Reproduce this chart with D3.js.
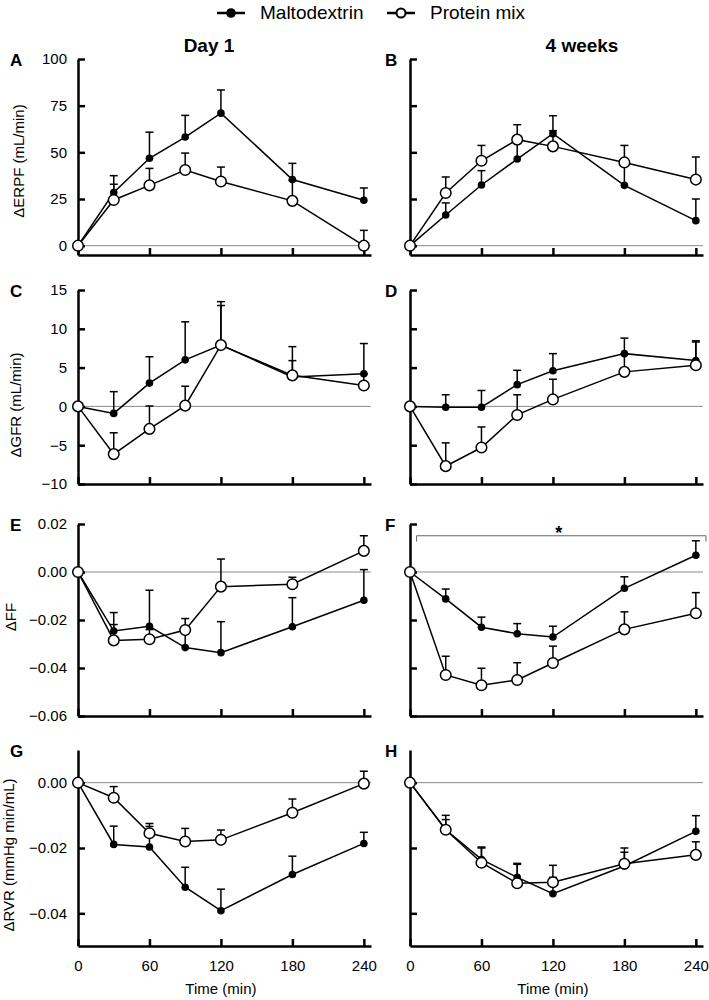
<!DOCTYPE html>
<html>
<head>
<meta charset="utf-8">
<script src="https://cdn.jsdelivr.net/npm/d3@7"></script>
<style>
body { margin: 0; background: #fff; }
svg text { font-family: "Liberation Sans", Arial, sans-serif; fill: #000; }
</style>
</head>
<body>
<div id="chart"></div>
<script>
// Sampling times (min)
const times = [0, 30, 60, 90, 120, 180, 240];

// A - ERPF, day 1
const erpfDay1Malto = [0, 28.5, 46.8, 58.2, 71.0, 35.4, 24.3];
const erpfDay1MaltoSe = [0, 9.0, 14.0, 11.6, 12.4, 8.7, 6.6];
const erpfDay1Prot = [0, 24.5, 32.3, 40.5, 34.4, 24.0, 0];
const erpfDay1ProtSe = [0, 8.4, 9.1, 9.1, 7.7, 11.0, 8.2];
// B - ERPF, 4 weeks
const erpfWk4Malto = [0, 16.4, 32.5, 46.4, 60.0, 32.3, 13.4];
const erpfWk4MaltoSe = [0, 6.5, 7.7, 9.0, 9.6, 11.0, 11.6];
const erpfWk4Prot = [0, 28.2, 45.5, 56.8, 53.2, 44.6, 35.4];
const erpfWk4ProtSe = [0, 8.6, 8.2, 8.0, 8.4, 9.1, 12.1];
// C - GFR, day 1
const gfrDay1Malto = [0, -0.9, 3.0, 6.0, 7.9, 3.8, 4.2];
const gfrDay1MaltoSe = [0, 2.8, 3.4, 4.9, 5.1, 3.9, 3.9];
const gfrDay1Prot = [0, -6.15, -2.9, 0.1, 7.9, 4.0, 2.7];
const gfrDay1ProtSe = [0, 2.75, 2.95, 2.5, 5.6, 1.9, 1.5];
// D - GFR, 4 weeks
const gfrWk4Malto = [0, -0.1, -0.1, 2.8, 4.6, 6.8, 5.9];
const gfrWk4MaltoSe = [0, 1.6, 2.15, 1.85, 2.2, 2.0, 2.55];
const gfrWk4Prot = [0, -7.7, -5.3, -1.1, 0.9, 4.45, 5.3];
const gfrWk4ProtSe = [0, 3.0, 2.65, 2.6, 2.6, 2.3, 3.0];
// E - FF, day 1
const ffDay1Malto = [0, -0.0246, -0.0226, -0.0315, -0.0336, -0.0228, -0.0118];
const ffDay1MaltoSe = [0, 0.0077, 0.015, 0.006, 0.0129, 0.0121, 0.0128];
const ffDay1Prot = [0, -0.0285, -0.028, -0.0242, -0.0061, -0.0051, 0.0088];
const ffDay1ProtSe = [0, 0.0066, 0.004, 0.0048, 0.0115, 0.0029, 0.0063];
// F - FF, 4 weeks
const ffWk4Malto = [0, -0.0112, -0.023, -0.0257, -0.0271, -0.0068, 0.007];
const ffWk4MaltoSe = [0, 0.0041, 0.0042, 0.0042, 0.0045, 0.0048, 0.006];
const ffWk4Prot = [0, -0.0429, -0.0472, -0.045, -0.0379, -0.0239, -0.0172];
const ffWk4ProtSe = [0, 0.0078, 0.0071, 0.0072, 0.007, 0.0073, 0.0086];
// G - RVR, day 1
const rvrDay1Malto = [0, -0.0189, -0.0197, -0.032, -0.0392, -0.0281, -0.0186];
const rvrDay1MaltoSe = [0, 0.0056, 0.0063, 0.0061, 0.0066, 0.0056, 0.0034];
const rvrDay1Prot = [0, -0.0046, -0.0155, -0.018, -0.0175, -0.0092, -0.0003];
const rvrDay1ProtSe = [0, 0.0034, 0.003, 0.004, 0.003, 0.0042, 0.0038];
// H - RVR, 4 weeks
const rvrWk4Malto = [0, -0.0144, -0.0235, -0.029, -0.034, -0.0255, -0.0149];
const rvrWk4MaltoSe = [0, 0.0044, 0.0038, 0.0043, 0.005, 0.0055, 0.0048];
const rvrWk4Prot = [0, -0.0144, -0.0245, -0.0308, -0.0305, -0.0248, -0.0221];
const rvrWk4ProtSe = [0, 0.0031, 0.0045, 0.0058, 0.0052, 0.0035, 0.004];

// Axis settings per row
const rowDomains = [[-5, 100], [-10, 15], [-0.06, 0.02], [-0.05, 0.01]];
const rowTicks = [[0, 25, 50, 75, 100], [-10, -5, 0, 5, 10, 15], [-0.06, -0.04, -0.02, 0, 0.02], [-0.04, -0.02, 0]];
const rowLabels = ["\u0394ERPF (mL/min)", "\u0394GFR (mL/min)", "\u0394FF", "\u0394RVR (mmHg min/mL)"];
const xTicks = [0, 60, 120, 180, 240];
const columnTitles = ["Day 1", "4 weeks"];
const letters = ["A", "B", "C", "D", "E", "F", "G", "H"];

const width = 709, height = 1000;
const colLeft = [78, 410];
const letterX = [10, 385];
const rowTop = [59, 290, 524, 750];
const rowBottom = [255, 484, 716, 946];
const labelX = [24, 21, 16, 14];
const labelY = [161, 405, 617, 855];

const minus = s => s.replace("-", "\u2212");
const fmtRow = [d3.format("d"), d3.format("d"), d3.format(".2f"), d3.format(".2f")];

const panels = [
	[erpfDay1Malto, erpfDay1MaltoSe, erpfDay1Prot, erpfDay1ProtSe],
	[erpfWk4Malto, erpfWk4MaltoSe, erpfWk4Prot, erpfWk4ProtSe],
	[gfrDay1Malto, gfrDay1MaltoSe, gfrDay1Prot, gfrDay1ProtSe],
	[gfrWk4Malto, gfrWk4MaltoSe, gfrWk4Prot, gfrWk4ProtSe],
	[ffDay1Malto, ffDay1MaltoSe, ffDay1Prot, ffDay1ProtSe],
	[ffWk4Malto, ffWk4MaltoSe, ffWk4Prot, ffWk4ProtSe],
	[rvrDay1Malto, rvrDay1MaltoSe, rvrDay1Prot, rvrDay1ProtSe],
	[rvrWk4Malto, rvrWk4MaltoSe, rvrWk4Prot, rvrWk4ProtSe]
];

const svg = d3.select("#chart").append("svg")
	.attr("width", width)
	.attr("height", height);

// Legend
const legend = [
	{name: "Maltodextrin", open: false, x: 217},
	{name: "Protein mix", open: true, x: 387}
];
legend.forEach(l => {
	svg.append("line")
		.attr("x1", l.x).attr("x2", l.x + 28)
		.attr("y1", 13).attr("y2", 13)
		.attr("stroke", "black").attr("stroke-width", 2.5);
	svg.append("circle")
		.attr("cx", l.x + 14).attr("cy", 13)
		.attr("r", l.open ? 4.5 : 4.8)
		.attr("fill", l.open ? "white" : "black")
		.attr("stroke", "black").attr("stroke-width", l.open ? 2 : 0);
	svg.append("text")
		.attr("x", l.x + 43).attr("y", 19)
		.style("font-size", "19px")
		.text(l.name);
});

// Column titles
columnTitles.forEach((t, i) => {
	svg.append("text")
		.attr("x", [209, 582][i]).attr("y", 52)
		.attr("text-anchor", "middle")
		.style("font-size", "19px").style("font-weight", "bold")
		.text(t);
});

function drawPanel(idx) {
	const row = Math.floor(idx / 2), col = idx % 2;
	const [malto, maltoSe, prot, protSe] = panels[idx];
	const dom = rowDomains[row];
	const left = colLeft[col];

	const xscale = d3.scaleLinear().domain([0, 246]).range([left, left + 293]);
	const yscale = d3.scaleLinear().domain(dom).range([rowBottom[row], rowTop[row]]);

	const g = svg.append("g");

	// zero reference line
	g.append("line")
		.attr("x1", xscale(0)).attr("x2", xscale(246))
		.attr("y1", yscale(0)).attr("y2", yscale(0))
		.attr("stroke", "#8a8a8a").attr("stroke-width", 1);

	// y axis
	const yaxis = d3.axisLeft(yscale)
		.tickValues(rowTicks[row])
		.tickSize(-7).tickSizeOuter(0).tickPadding(11)
		.tickFormat(col == 0 ? d => minus(fmtRow[row](d)) : "");
	const ya = g.append("g")
		.attr("transform", "translate(" + xscale(0) + ",0)")
		.call(yaxis);

	// x axis
	const xaxis = d3.axisBottom(xscale)
		.tickValues(xTicks)
		.tickSize(-7).tickSizeOuter(0).tickPadding(11)
		.tickFormat(row == 3 ? d3.format("d") : "");
	const xa = g.append("g")
		.attr("transform", "translate(0," + yscale(dom[0]) + ")")
		.call(xaxis);

	[ya, xa].forEach(a => {
		a.attr("font-size", null).attr("font-family", null);
		a.selectAll("path, line").attr("stroke-width", 2.5).attr("stroke", "black");
		a.selectAll("text").style("font-size", "15px");
	});
	xa.selectAll("text").attr("dy", "0.9em");

	// y label
	if (col == 0) {
		g.append("text")
			.attr("transform", "translate(" + labelX[row] + "," + labelY[row] + ") rotate(-90)")
			.attr("text-anchor", "middle")
			.style("font-size", "15px")
			.text(rowLabels[row]);
	}
	// x label
	if (row == 3) {
		g.append("text")
			.attr("x", (xscale(0) + xscale(240)) / 2).attr("y", 994)
			.attr("text-anchor", "middle")
			.style("font-size", "15px")
			.text("Time (min)");
	}

	// panel letter
	g.append("text")
		.attr("x", letterX[col]).attr("y", rowTop[row] + 7)
		.style("font-size", "17px").style("font-weight", "bold")
		.text(letters[idx]);

	const series = [
		{vals: malto, se: maltoSe, open: false},
		{vals: prot, se: protSe, open: true}
	];

	series.forEach(s => {
		const pts = times.map((t, i) => ({t: t, v: s.vals[i], e: s.se[i]}));

		g.append("path").datum(pts)
			.attr("fill", "none")
			.attr("stroke", "black")
			.attr("stroke-width", 1.5)
			.attr("d", d3.line().x(d => xscale(d.t)).y(d => yscale(d.v)));

		// upper error bars
		const eb = g.append("g").selectAll("g").data(pts.filter(d => d.e > 0)).enter().append("g");
		eb.append("line")
			.attr("x1", d => xscale(d.t)).attr("x2", d => xscale(d.t))
			.attr("y1", d => yscale(d.v)).attr("y2", d => yscale(d.v + d.e))
			.attr("stroke", "black").attr("stroke-width", 1.5);
		eb.append("line")
			.attr("x1", d => xscale(d.t) - 4).attr("x2", d => xscale(d.t) + 4)
			.attr("y1", d => yscale(d.v + d.e)).attr("y2", d => yscale(d.v + d.e))
			.attr("stroke", "black").attr("stroke-width", 1.5);
	});

	series.forEach(s => {
		g.append("g").selectAll("circle")
			.data(times.map((t, i) => ({t: t, v: s.vals[i]})))
			.enter().append("circle")
			.attr("cx", d => xscale(d.t))
			.attr("cy", d => yscale(d.v))
			.attr("r", s.open ? 5.3 : 3.8)
			.attr("fill", s.open ? "white" : "black")
			.attr("stroke", "black")
			.attr("stroke-width", s.open ? 1.5 : 0);
	});

	// significance bracket in panel F
	if (idx == 5) {
		const by = yscale(0.0151), bt = yscale(0.0127);
		g.append("path")
			.attr("d", "M" + xscale(5.5) + "," + bt + "V" + by + "H" + xscale(248.5) + "V" + bt)
			.attr("fill", "none").attr("stroke", "#666").attr("stroke-width", 1);
		g.append("text")
			.attr("x", xscale(125)).attr("y", by + 3)
			.attr("text-anchor", "middle")
			.style("font-size", "18px").style("font-weight", "bold")
			.text("*");
	}
}

for (let i = 0; i < 8; i++) drawPanel(i);
</script>
</body>
</html>
